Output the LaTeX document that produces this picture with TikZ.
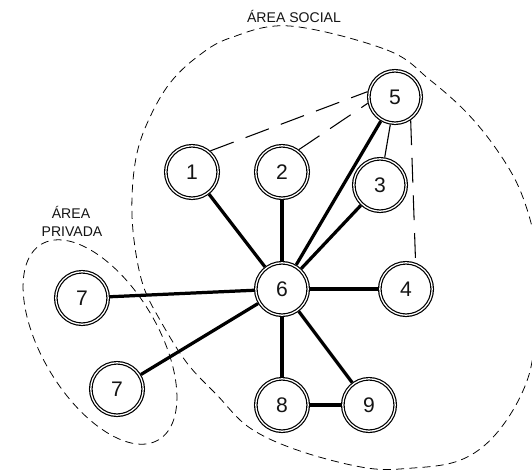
\documentclass[tikz,border=0pt]{standalone}
\usepackage{fontspec}
\setmainfont{Liberation Sans}

\definecolor{sgline}{RGB}{0,0,0}
\definecolor{sgfill}{RGB}{255,255,255}
\definecolor{sgtext}{RGB}{20,20,20}

\begin{document}
\begin{tikzpicture}[
  x=0.025cm,
  y=-0.025cm,
  every node/.style={inner sep=0pt, outer sep=0pt},
  ring/.style={circle, draw=sgline, fill=sgfill, line width=0.85pt, double=sgfill, double distance=0.9pt,
    minimum size=1.31cm, outer sep=1.3pt, text=sgtext, font=\fontsize{15}{15}\selectfont},
  areatext/.style={font=\fontsize{10}{12}\selectfont, text=sgtext, anchor=base},
  zone/.style={draw=sgline, line width=0.55pt, dash pattern=on 0.2cm off 0.13cm},
  tie/.style={draw=sgline, line width=2.3pt},
  thintie/.style={draw=sgline, line width=0.8pt},
  weaktie/.style={draw=sgline, line width=0.75pt, dash pattern=on 0.62cm off 0.32cm}
]

  \path[use as bounding box] (0,0) rectangle (532,470);

  % Areas.
  \draw[zone] plot[smooth cycle, tension=0.6] coordinates {
    (290,26) (387,50) (430,80) (467,113) (497,150) (520,190) (535,240)
    (540,290) (535,340) (528,378) (510,415) (485,445) (455,462) (413,468)
    (367,468) (300,451) (250,428) (217,395) (187,363) (160,320) (143,285)
    (134,240) (132,197) (137,153) (150,117) (170,83) (197,57) (230,38)};
  \draw[zone, rotate around={-59:(100,342)}] (100,342) ellipse [x radius=114, y radius=58];

  \node[areatext] (social) at (294,22) {ÁREA SOCIAL};
  \node[areatext] (privtop) at (71,218) {ÁREA};
  \node[areatext] (privbot) at (72,236) {PRIVADA};

  % Members.
  \node[ring] (n1) at (192,172) {1};
  \node[ring] (n2) at (282,172) {2};
  \node[ring] (n3) at (380,185) {3};
  \node[ring] (n4) at (406,289) {4};
  \node[ring] (n5) at (395,97) {5};
  \node[ring] (n6) at (282,289) {6};
  \node[ring] (n7a) at (82,298) {7};
  \node[ring] (n7b) at (117,389) {7};
  \node[ring] (n8) at (282,405) {8};
  \node[ring] (n9) at (369,405) {9};

  % Strong ties.
  \draw[tie] (n6) -- (n1);
  \draw[tie] (n6) -- (n2);
  \draw[tie] (n6) -- (n3);
  \draw[tie] (n6) -- (n4);
  \draw[tie] (n6) -- (n5);
  \draw[tie] (n6) -- (n7a);
  \draw[tie] (n6) -- (n7b);
  \draw[tie] (n6) -- (n8);
  \draw[tie] (n6) -- (n9);
  \draw[tie] (n8) -- (n9);

  % Weak ties.
  \draw[thintie] (n5) -- (n3);
  \draw[weaktie] (n1.49) -- (n5.169);
  \draw[weaktie] (n2.53) -- (n5.-167);
  \draw[weaktie] (n5.-56) -- (n4.70);

\end{tikzpicture}
\end{document}
